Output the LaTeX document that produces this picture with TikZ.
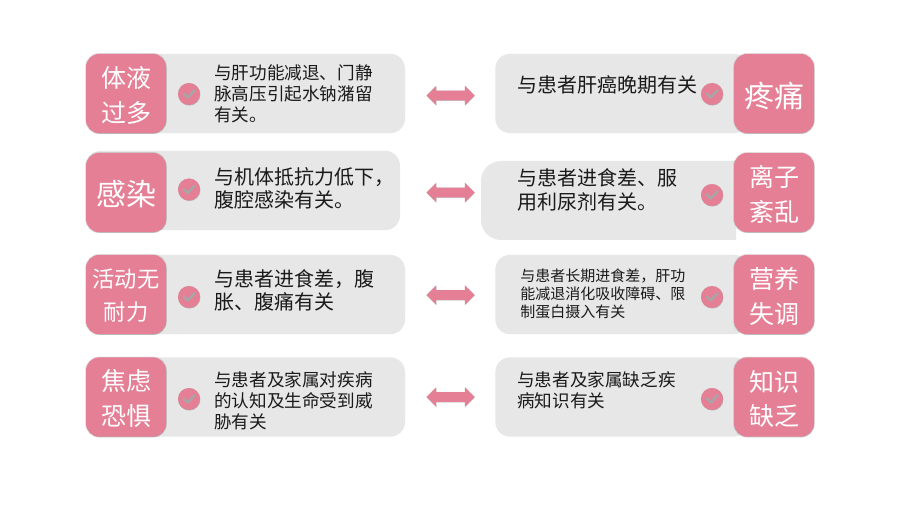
\documentclass[tikz,border=0pt]{standalone}
\usepackage{fontspec}
\setmainfont{Noto Sans CJK SC}
\usetikzlibrary{shapes.arrows,shadows}
\definecolor{rose}{HTML}{E57F95}
\definecolor{panelgrey}{HTML}{E7E7E7}
\definecolor{tickgrey}{HTML}{A9A5A6}
\definecolor{inkblack}{HTML}{1A1A1A}
\newcommand{\fsz}[2]{\fontsize{#1}{#2}\selectfont}
\tikzset{
  softshadow/.style={
    general shadow={shadow scale=1.02, fill=black, opacity=.10},
    general shadow={shadow xshift=.3pt, shadow yshift=-.5pt, fill=black, opacity=.16}},
  panel/.style={fill=panelgrey, draw=none, rounded corners=11pt, minimum height=59.5pt, inner sep=0pt},
  tag/.style={fill=rose, draw=none, rounded corners=10pt, minimum width=60pt, minimum height=59.5pt, inner sep=0pt, softshadow},
  taglabel/.style={text=white, align=center, inner sep=0pt, font=\fsz{18.75}{26.2}},
  taglabelbig/.style={text=white, align=center, inner sep=0pt, font=\fsz{22.5}{26}},
  taglabelsmall/.style={text=white, align=center, inner sep=0pt, font=\fsz{16.7}{24.7}},
  note/.style={text=inkblack, align=left, anchor=west, inner sep=0pt},
  notesmall/.style={note, font=\fsz{11.25}{13.5}},
  notemid/.style={note, font=\fsz{13.2}{15.75}},
  notebig/.style={note, font=\fsz{15}{17.5}},
  checkdot/.style={circle, fill=rose, draw=none, minimum size=16.5pt, inner sep=0pt, softshadow},
  tick/.style={draw=tickgrey, line width=1.9pt, line cap=round, line join=round},
  swap/.style={double arrow, fill=rose, draw=none, minimum height=36pt, minimum width=14pt,
    text height=7pt, text depth=0pt, text width=0pt,
    double arrow head extend=3.5pt, inner sep=0pt, softshadow},
}
\newcommand{\tickat}[1]{\draw[tick] ([shift={(-4pt,.3pt)}]#1.center) -- ([shift={(-1pt,-2.6pt)}]#1.center) -- ([shift={(4.2pt,2.8pt)}]#1.center);}
\begin{document}
\begin{tikzpicture}[x=.75pt,y=-.75pt]
\useasboundingbox[fill=white] (0,0) rectangle (900,506);
% left panels
\node[panel, minimum width=239.25pt] (pl1) at (245.5,93.5) {};
\node[panel, minimum width=235.5pt] (pl2) at (243,190.5) {};
\node[panel, minimum width=239.25pt] (pl3) at (245.5,294.5) {};
\node[panel, minimum width=239.25pt] (pl4) at (245.5,397) {};
% right panels
\node[panel, minimum width=190pt] (pr1) at (622,93.5) {};
\fill[panelgrey] (501,161) -- (736,161) -- (736,240) -- (501,240) arc[start angle=90,end angle=180,radius=20] -- (481,181) arc[start angle=180,end angle=270,radius=20] -- cycle;
\node[panel, minimum width=190pt] (pr3) at (622,294.5) {};
\node[panel, minimum width=190pt] (pr4) at (622,397) {};
% tags
\node[tag] (tl1) at (126,93.5) {};
\node[tag] (tl2) at (126,192.5) {};
\node[tag] (tl3) at (126,294.5) {};
\node[tag] (tl4) at (126,397) {};
\node[tag] (tr1) at (774,93.5) {};
\node[tag] (tr2) at (774,192.5) {};
\node[tag] (tr3) at (774,294.5) {};
\node[tag] (tr4) at (774,397) {};
\node[taglabel] (ll1) at (126,95.5) {体液\\过多};
\node[taglabelbig] (ll2) at (126,194.5) {感染};
\node[taglabelsmall] (ll3) at (126,295.5) {活动无\\耐力};
\node[taglabel] (ll4) at (126,398.5) {焦虑\\恐惧};
\node[taglabelbig] (lr1) at (774,96) {疼痛};
\node[taglabel] (lr2) at (774,194) {离子\\紊乱};
\node[taglabel] (lr3) at (774,296.5) {营养\\失调};
\node[taglabel] (lr4) at (774,399) {知识\\缺乏};
% notes
\node[notemid] (nl1) at (214,93.5) {与肝功能减退、门静\\脉高压引起水钠潴留\\有关。};
\node[notebig] (nl2) at (214,188.5) {与机体抵抗力低下，\\腹腔感染有关。};
\node[notebig] (nl3) at (214,290.5) {与患者进食差，腹\\胀、腹痛有关};
\node[notemid] (nl4) at (214,400.5) {与患者及家属对疾病\\的认知及生命受到威\\胁有关};
\node[notebig] (nr1) at (517,85) {与患者肝癌晚期有关};
\node[notebig] (nr2) at (517,190) {与患者进食差、服\\用利尿剂有关。};
\node[notesmall] (nr3) at (520,294) {与患者长期进食差，肝功\\能减退消化吸收障碍、限\\制蛋白摄入有关};
\node[notemid] (nr4) at (517,390) {与患者及家属缺乏疾\\病知识有关};
% check marks
\node[checkdot] (cl1) at (189,94) {};
\node[checkdot] (cl2) at (189,189.5) {};
\node[checkdot] (cl3) at (189,297) {};
\node[checkdot] (cl4) at (189,399) {};
\node[checkdot] (cr1) at (712,94) {};
\node[checkdot] (cr2) at (712,195) {};
\node[checkdot] (cr3) at (712,297) {};
\node[checkdot] (cr4) at (712,399) {};
\tickat{cl1}\tickat{cl2}\tickat{cl3}\tickat{cl4}
\tickat{cr1}\tickat{cr2}\tickat{cr3}\tickat{cr4}
% double arrows
\node[swap] (a1) at (450.5,95.5) {};
\node[swap] (a2) at (450.5,192.5) {};
\node[swap] (a3) at (450.5,295) {};
\node[swap] (a4) at (450.5,397) {};
\end{tikzpicture}
\end{document}
